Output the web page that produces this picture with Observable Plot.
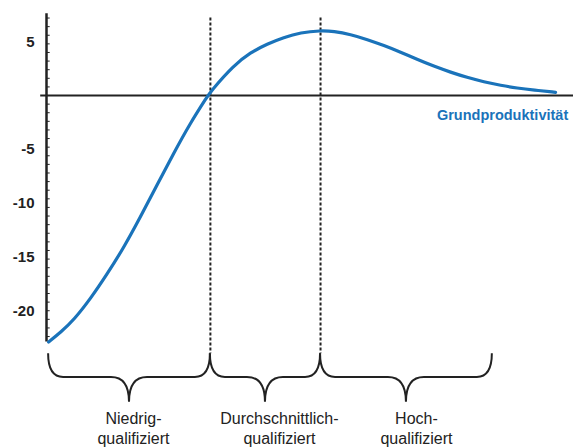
<!DOCTYPE html>
<html><head><meta charset="utf-8">
<script src="https://cdn.jsdelivr.net/npm/d3@7"></script>
<script src="https://cdn.jsdelivr.net/npm/@observablehq/plot@0.6"></script>
<style>body{margin:0;background:#fff}</style>
</head><body><div id="chart"></div>
<script>
// Curve: Grundproduktivität over qualification level
const qualification = [0.4, 2.8, 5.2, 8.4, 11.5, 14.7, 17.8, 21.0, 24.2, 27.3, 30.5, 31.1, 35.5, 38.7, 41.9, 45.0, 48.2, 52.0, 54.5, 57.7, 60.9, 64.0, 67.2, 70.3, 73.5, 76.7, 79.8, 83.0, 86.2, 89.3, 92.5, 96.6];
const productivity  = [-22.9, -21.95, -20.85, -18.85, -16.6, -14.1, -11.3, -8.3, -5.3, -2.55, -0.1, 0.35, 2.8, 4.0, 4.8, 5.4, 5.85, 6.04, 5.97, 5.68, 5.2, 4.65, 4.03, 3.36, 2.72, 2.16, 1.68, 1.27, 0.94, 0.69, 0.5, 0.3];
const yTickLabels = [5, -5, -10, -15, -20];
const groupBounds = [0.4, 31.1, 52.0, 84.6];          // brace segments
const dividers = [31.1, 52.0];                         // dashed lines
const groupNames = ["Niedrig-\nqualifiziert", "Durchschnittlich-\nqualifiziert", "Hoch-\nqualifiziert"];
const groupNameX = [16.5, 44.2, 70.2];
const curveLabel = "Grundproduktivität";

const curveData = qualification.map((q, i) => ({q, p: productivity[i]}));
const minorTicks = d3.range(-22.4, 7.7, 0.8);
const braces = groupBounds.slice(0, -1).map((a, i) => ({a, b: groupBounds[i + 1]}));
const labels = groupNames.map((t, i) => ({t, x: groupNameX[i]}));

const ink = "#222";
const blue = "#1a73ba";

function braceMark(index, scales) {
  const {x, y} = scales;
  const g = document.createElementNS("http://www.w3.org/2000/svg", "g");
  const yTop = y(-24.0), yMid = y(-26.2), yTip = y(-28.5);
  for (const {a, b} of braces) {
    const xa = x(a), xb = x(b), m = (xa + xb) / 2;
    const r = 15, r2 = 18;
    const p = d3.path();
    p.moveTo(xa, yTop);
    p.quadraticCurveTo(xa, yMid, xa + r, yMid);
    p.lineTo(m - r2, yMid);
    p.quadraticCurveTo(m, yMid, m, yTip);
    p.quadraticCurveTo(m, yMid, m + r2, yMid);
    p.lineTo(xb - r, yMid);
    p.quadraticCurveTo(xb, yMid, xb, yTop);
    const path = document.createElementNS("http://www.w3.org/2000/svg", "path");
    path.setAttribute("d", p.toString());
    path.setAttribute("fill", "none");
    path.setAttribute("stroke", ink);
    path.setAttribute("stroke-width", 2);
    g.appendChild(path);
  }
  return g;
}

const chart = Plot.plot({
  width: 579,
  height: 447,
  marginLeft: 46,
  marginRight: 6,
  marginTop: 0,
  marginBottom: 0,
  style: {fontFamily: "'Liberation Sans', Arial, sans-serif", background: "white", overflow: "visible"},
  x: {domain: [0, 100], axis: null},
  y: {domain: [-32.71, 8.83], axis: null},
  marks: [
    // y axis line and minor ticks
    Plot.ruleX([0], {y1: -22.9, y2: 7.6, stroke: ink, strokeWidth: 2.5}),
    Plot.ruleY(minorTicks, {x1: 0, x2: 0.7, stroke: ink, strokeWidth: 1}),
    Plot.text(yTickLabels, {x: 0, y: d => d, text: d => String(d), textAnchor: "end", dx: -12, fontSize: 15, fontWeight: "bold", fill: ink}),
    // zero line
    Plot.ruleY([0], {x1: -1.1, x2: 100, stroke: ink, strokeWidth: 2}),
    // dividers
    Plot.ruleX(dividers, {y1: 7.2, y2: -24.0, stroke: ink, strokeWidth: 2, strokeDasharray: "3,2"}),
    // curve
    Plot.line(curveData, {x: "q", y: "p", curve: "basis", stroke: blue, strokeWidth: 3.2}),
    Plot.text([curveLabel], {x: 99, y: -1.86, text: d => d, textAnchor: "end", fontSize: 14.5, fontWeight: "bold", fill: blue}),
    // braces
    braceMark,
    Plot.text(labels, {x: "x", y: -29.3, text: "t", lineAnchor: "top", lineHeight: 1.2, fontSize: 16, fill: ink})
  ]
});
document.getElementById("chart").appendChild(chart);
</script>
</body></html>
